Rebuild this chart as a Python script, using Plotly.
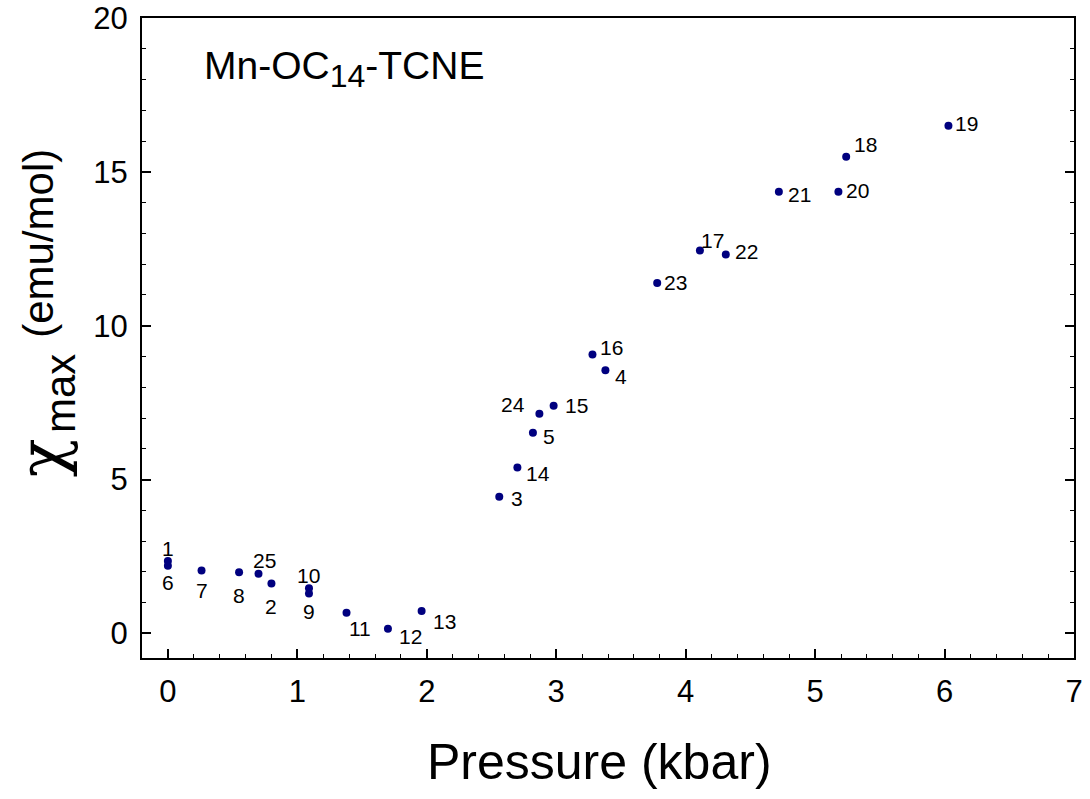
import plotly.graph_objects as go

# ---- data ----
sample_ids = [1, 2, 3, 4, 5, 6, 7, 8, 9, 10, 11, 12, 13,
              14, 15, 16, 17, 18, 19, 20, 21, 22, 23, 24, 25]
pressure_kbar = [0.00, 0.80, 2.56, 3.38, 2.82, 0.00, 0.26, 0.55, 1.09, 1.09, 1.38, 1.70, 1.96,
                 2.70, 2.98, 3.28, 4.11, 5.24, 6.03, 5.18, 4.72, 4.31, 3.78, 2.87, 0.70]
chi_max = [2.35, 1.62, 4.44, 8.55, 6.52, 2.20, 2.04, 1.99, 1.30, 1.47, 0.67, 0.15, 0.73,
           5.39, 7.40, 9.06, 12.44, 15.49, 16.50, 14.35, 14.35, 12.31, 11.39, 7.14, 1.94]

x_ticks = [0, 1, 2, 3, 4, 5, 6, 7]
y_ticks = [0, 5, 10, 15, 20]
sample_name = "Mn-OC<sub><span style='font-size:32px'>14</span></sub>-TCNE"

# ---- label placement (screen px offsets, dy positive = down) ----
label_offsets = {
    1: (0, -13), 2: (0, 23), 3: (18, 2), 4: (16, 6), 5: (16, 4),
    6: (0, 17), 7: (0, 20), 8: (0, 23), 9: (0, 18), 10: (0, -13),
    11: (13, 16), 12: (23, 8), 13: (23, 11), 14: (21, 6), 15: (23, 0),
    16: (19, -7), 17: (13, -10), 18: (19, -12), 19: (18, -2), 20: (19, -1),
    21: (21, 3), 22: (21, -3), 23: (18, 0), 24: (-26, -9), 25: (6, -13),
}

FONT = "Liberation Sans, Arial, sans-serif"
SERIF = "DejaVu Serif, Liberation Serif, serif"
NAVY = "#00007f"

fig = go.Figure()
fig.add_trace(go.Scatter(
    x=pressure_kbar, y=chi_max, mode="markers",
    marker=dict(color=NAVY, size=8, line=dict(width=0)),
    showlegend=False, hoverinfo="skip",
))

annotations = []
for sid, px, cy in zip(sample_ids, pressure_kbar, chi_max):
    dx, dy = label_offsets[sid]
    annotations.append(dict(
        x=px, y=cy, xref="x", yref="y", text=str(sid), showarrow=False,
        xshift=dx, yshift=-dy, xanchor="center", yanchor="middle",
        font=dict(family=FONT, size=21, color="black"),
    ))

# sample name
annotations.append(dict(
    x=0.064, y=0.921, xref="paper", yref="paper", text=sample_name,
    showarrow=False, xanchor="left", yanchor="middle",
    font=dict(family=FONT, size=39, color="black"),
))

# y-axis title pieces
annotations += [
    dict(x=-0.107, y=0.3125, xref="paper", yref="paper", text="χ", textangle=-90,
         showarrow=False, xanchor="center", yanchor="middle",
         font=dict(family=SERIF, size=64, color="black")),
    dict(x=-0.088, y=0.414, xref="paper", yref="paper", text="max", textangle=-90,
         showarrow=False, xanchor="center", yanchor="middle",
         font=dict(family=FONT, size=42, color="black")),
    dict(x=-0.111, y=0.648, xref="paper", yref="paper", text="(emu/mol)", textangle=-90,
         showarrow=False, xanchor="center", yanchor="middle",
         font=dict(family=FONT, size=42, color="black")),
    # x-axis title
    dict(x=0.491, y=-0.1625, xref="paper", yref="paper", text="Pressure (kbar)",
         showarrow=False, xanchor="center", yanchor="middle",
         font=dict(family=FONT, size=50, color="black")),
]

fig.update_layout(
    width=1090, height=799,
    margin=dict(l=142, r=16, t=18, b=141, autoexpand=False),
    paper_bgcolor="white", plot_bgcolor="white",
    annotations=annotations,
    xaxis=dict(
        range=[-0.2, 7], tickvals=x_ticks, ticktext=[str(v) for v in x_ticks],
        showgrid=False, zeroline=False, automargin=False,
        showline=True, linecolor="black", linewidth=2, mirror=True,
        ticks="inside", ticklen=9, tickwidth=2, tickcolor="black",
        minor=dict(dtick=0.2, ticks="inside", ticklen=4, tickwidth=1, tickcolor="black", showgrid=False),
        tickfont=dict(family=FONT, size=31, color="black"),
        ticklabelstandoff=5,
    ),
    xaxis2=dict(
        range=[-0.2, 7], overlaying="x", side="top", anchor="y",
        showgrid=False, zeroline=False, showline=False, automargin=False,
        tickmode="linear", tick0=0, dtick=0.2,
        ticks="inside", ticklen=4, tickwidth=1, tickcolor="black",
        showticklabels=False,
    ),
    yaxis=dict(
        range=[-0.8, 20], tickvals=y_ticks, ticktext=[str(v) for v in y_ticks],
        showgrid=False, zeroline=False, automargin=False,
        showline=True, linecolor="black", linewidth=2, mirror="allticks",
        ticks="inside", ticklen=9, tickwidth=2, tickcolor="black",
        minor=dict(dtick=1, ticks="inside", ticklen=4, tickwidth=1, tickcolor="black", showgrid=False),
        tickfont=dict(family=FONT, size=31, color="black"),
        ticklabelstandoff=6,
    ),
)

fig.write_html("out.html", config={"displayModeBar": False},
               post_script="document.body.style.margin='0px';")
